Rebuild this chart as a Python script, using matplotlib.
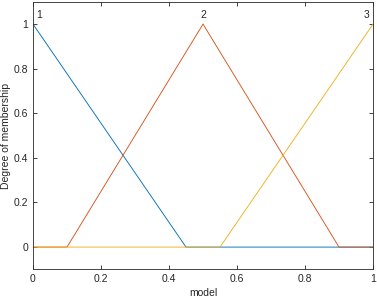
import numpy as np
import matplotlib
matplotlib.use("Agg")
import matplotlib.pyplot as plt

# --------------------------------------------------
# Data: triangular membership functions (a, b, c)
# --------------------------------------------------
mf_names = ["1", "2", "3"]
mf_params = [[-0.45, 0.0, 0.45], [0.1, 0.5, 0.9], [0.55, 1.0, 1.45]]
mf_colors = ["#0072BD", "#D95319", "#EDB120"]
label_x = [0.018, 0.5, 0.98]

x = np.linspace(0, 1, 1001)

def trimf(x, a, b, c):
    return np.maximum(np.minimum((x - a) / (b - a), (c - x) / (c - b)), 0)

plt.rcParams["font.family"] = ["Liberation Sans", "DejaVu Sans"]
plt.rcParams["font.size"] = 7.5

fig = plt.figure(figsize=(3.77, 3.01), dpi=100)
ax = fig.add_axes([0.0875, 0.105, 0.902, 0.889])

for (a, b, c), col, name, lx in zip(mf_params, mf_colors, mf_names, label_x):
    ax.plot(x, trimf(x, a, b, c), color=col, lw=0.65)
    ax.text(lx, 1.02, name, ha="center", va="bottom", color="#262626")

ax.set_xlim(0, 1)
ax.set_ylim(-0.1, 1.1)
ax.set_xticks([0, 0.2, 0.4, 0.6, 0.8, 1])
ax.set_xticklabels(["0", "0.2", "0.4", "0.6", "0.8", "1"])
ax.set_yticks([0, 0.2, 0.4, 0.6, 0.8, 1])
ax.set_yticklabels(["0", "0.2", "0.4", "0.6", "0.8", "1"])
ax.tick_params(direction="in", top=True, right=True, length=3, width=0.6,
               colors="#262626", labelcolor="#262626")
for s in ax.spines.values():
    s.set_color("#262626")
    s.set_linewidth(0.6)
ax.set_xlabel("model", color="#262626", labelpad=3)
ax.set_ylabel("Degree of membership", color="#262626", labelpad=2)

fig.savefig("out.png", dpi=100)
